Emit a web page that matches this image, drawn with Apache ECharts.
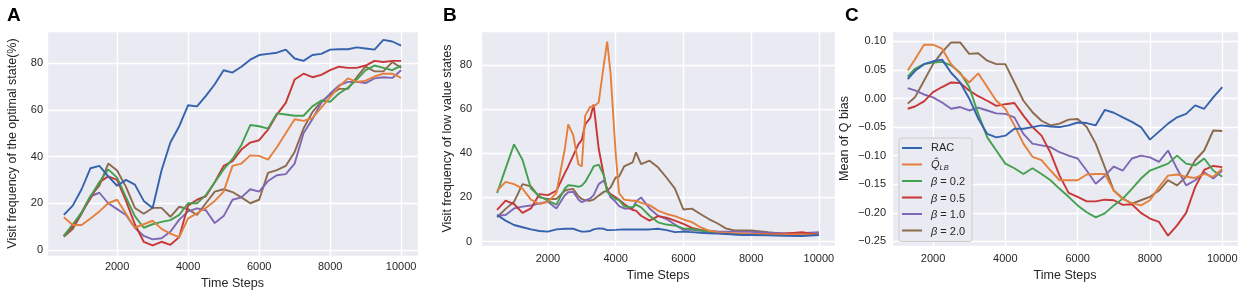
<!DOCTYPE html>
<html>
<head>
<meta charset="utf-8">
<script src="https://cdn.jsdelivr.net/npm/echarts@6/dist/echarts.min.js"></script>
<style>
html,body{margin:0;padding:0;background:#fff;}
#main{width:1248px;height:304px;}
</style>
</head>
<body>
<div id="main"></div>
<script>
// 图例名称（与C图一致）
var names = ['RAC', 'Q_LB', 'b0.2', 'b0.5', 'b1.0', 'b2.0'];
var colors = ['#3562ad', '#e5803c', '#44a04f', '#c83635', '#7e67b4', '#8c6a4d'];

// A: Visit frequency of the optimal state(%)
var stepsA = [500,750,1000,1250,1500,1750,2000,2250,2500,2750,3000,3250,3500,3750,4000,4250,4500,4750,5000,5250,5500,5750,6000,6250,6500,6750,7000,7250,7500,7750,8000,8250,8500,8750,9000,9250,9500,9750,10000];
var A_rac  = [15,19,26,35,36,31.5,27.5,30,28,21,18,34,46,53,62,61.5,66,71,77,76,78.5,81.5,83.5,84,84.5,85.8,82,81,83.5,84,85.8,86,86,86.8,86.3,85.8,90,89.3,87.5];
var A_qlb  = [14,10.7,10.7,13.5,16.5,20,21.5,15.5,9.5,11,12.5,9,7,5.5,13.5,15.7,18,21,25,36,37,40.5,40.3,38.7,44,50,56,55.3,56.5,61,65.5,70,73.5,72,72.5,74.3,75.5,75.5,73.7];
var A_b02  = [6,11,16,23,29,34.5,31,22.5,14.5,9.5,11,12,12.8,15,20,20,23.5,29,34.5,39,45,53.5,53,52,58.5,58,57.5,57.5,61.5,64,63.5,67,69.5,73,77,79,78,77,79];
var A_b05  = [6,10,16,22,29,31.5,30,21,11,3.5,2,3.5,2.2,5.5,19,21.5,23,29,36,38,43,46,47,51.5,58,63,73,75.5,74,75,77,78.5,78,78,79,81,80.5,81,81];
var A_b10  = [6,10,16,23,24.5,20,17.5,15,9.5,6,4.5,5,7.8,13,16.5,17.8,17,11.5,14.5,21.5,22.5,26,25,29.5,32,32.5,37,50,56,63,67,70.5,72,72,71.5,73.5,74,73.7,77];
var A_b20  = [5.6,9,15.5,23,27.5,37,34,27,18,15.5,18,18,14.2,18.5,17.5,15,20,25,26,24.8,22.5,20,21.5,33,34.2,36,42,52,59,63.5,66.5,69,69,74,78.6,76.5,76.5,80.5,78];

// B: Visit frequency of low value states
var stepsB = [500,750,1000,1250,1500,1750,2000,2250,2500,2600,2750,2900,3000,3100,3250,3350,3500,3650,3750,3850,4000,4100,4250,4500,4600,4750,5000,5250,5500,5750,6000,6250,6500,6750,7000,7250,7500,7750,8000,8500,9000,9500,10000];
var B_rac  = [12,9.5,7.5,6.5,5.5,4.8,4.5,5.5,5.8,5.8,5.8,5,4.5,4.5,4.8,5.5,6,5.8,5.2,5.2,5.3,5.4,5.5,5.5,5.5,5.5,5.5,5.8,5.2,4.3,4.5,4.3,4,3.8,3.6,3.4,3.2,3,3,2.8,2.6,2.5,3];
var B_qlb  = [23,27,26,24,19,17,18,22,42,53,48,35,34,57,61,61,63,80,90.5,76,40,22,19,18.5,18.5,17.5,16.5,14,12.5,11.5,10,8.8,6.5,5,4.2,4,3.8,3.7,3.5,3.3,3.2,3.2,3.2];
var B_b02  = [22,33,44,37,24,20.5,18.5,16.7,24,25.5,25.3,24.8,25.3,27,31,34,34.8,30,22.5,21,19.3,18.8,16,15.5,16.7,15.5,11.7,8.7,7.7,7.2,6,5.7,5,4.5,4,3.6,3.3,3.2,3.1,3,3,3,3];
var B_b05  = [14.3,18.5,17,13,15,21.5,21,23,31,34,39,44,46,53,56,62,42,30,23,21.5,20,19,17,14.3,14,11.7,9.5,11.5,10.8,9.5,8,6.2,5.3,4.7,4,3.6,3.5,3.4,3.3,3.5,3.6,4.2,3];
var B_b10  = [11.7,12,15,15.8,16.3,17.3,18,15,21,22.3,22.5,19,17.8,18.5,19.5,21,26,27.6,24,20,18,16,15,15,18,20,15,11.7,10.2,7.7,5.3,5.3,5,4.8,4.6,4.5,4.5,4.4,4.4,4,3.8,3.8,4.2];
var B_b20  = [11,14.8,18,26,25,20,19.3,19.3,23,23.5,23.8,20.5,19.3,18.7,18.5,19,20.8,22.5,23,24.5,29,29.4,34,35.8,40.4,35,36.6,33.6,29,24,14.5,14.9,12.5,10.2,8.3,6,5,5,5,4.2,3.5,3.2,3.5];

// C: Mean of Q bias
var stepsC = [1300,1500,1750,2000,2250,2500,2750,3000,3250,3500,3750,4000,4250,4500,4750,5000,5250,5500,5750,6000,6250,6500,6750,7000,7250,7500,7750,8000,8250,8500,8750,9000,9250,9500,9750,10000];
var C_rac  = [0.034,0.048,0.06,0.065,0.068,0.045,0.028,0.0,-0.035,-0.062,-0.068,-0.065,-0.053,-0.053,-0.05,-0.047,-0.049,-0.05,-0.047,-0.042,-0.043,-0.047,-0.02,-0.025,-0.033,-0.041,-0.05,-0.072,-0.058,-0.044,-0.033,-0.027,-0.012,-0.018,0.002,0.02];
var C_qlb  = [0.049,0.068,0.094,0.094,0.087,0.06,0.043,0.028,0.044,0.02,-0.004,-0.018,-0.047,-0.079,-0.102,-0.108,-0.126,-0.143,-0.143,-0.143,-0.133,-0.132,-0.132,-0.161,-0.176,-0.183,-0.187,-0.178,-0.155,-0.135,-0.133,-0.137,-0.139,-0.132,-0.137,-0.123];
var C_b02  = [0.038,0.052,0.06,0.063,0.064,0.058,0.045,0.02,-0.027,-0.068,-0.091,-0.114,-0.122,-0.132,-0.122,-0.132,-0.143,-0.158,-0.172,-0.187,-0.199,-0.208,-0.201,-0.187,-0.175,-0.158,-0.14,-0.126,-0.12,-0.114,-0.1,-0.114,-0.117,-0.105,-0.126,-0.137];
var C_b05  = [-0.018,-0.014,-0.005,0.011,0.02,0.028,0.027,0.014,0.004,-0.004,-0.013,-0.01,-0.008,-0.03,-0.05,-0.065,-0.095,-0.135,-0.165,-0.172,-0.18,-0.18,-0.177,-0.178,-0.186,-0.185,-0.2,-0.21,-0.216,-0.24,-0.222,-0.2,-0.155,-0.125,-0.118,-0.12];
var C_b10  = [0.018,0.014,0.007,0.002,-0.007,-0.018,-0.015,-0.021,-0.016,-0.021,-0.026,-0.027,-0.033,-0.062,-0.079,-0.082,-0.085,-0.094,-0.1,-0.105,-0.126,-0.149,-0.135,-0.119,-0.126,-0.105,-0.1,-0.103,-0.111,-0.091,-0.123,-0.152,-0.143,-0.129,-0.14,-0.126];
var C_b20  = [-0.009,0.002,0.031,0.06,0.081,0.098,0.098,0.078,0.079,0.066,0.06,0.06,0.028,-0.004,-0.024,-0.039,-0.047,-0.044,-0.037,-0.036,-0.05,-0.079,-0.12,-0.161,-0.175,-0.184,-0.178,-0.172,-0.161,-0.143,-0.152,-0.137,-0.108,-0.091,-0.056,-0.057];

var panelA = [A_rac, A_qlb, A_b02, A_b05, A_b10, A_b20];
var panelB = [B_rac, B_qlb, B_b02, B_b05, B_b10, B_b20];
var panelC = [C_rac, C_qlb, C_b02, C_b05, C_b10, C_b20];

var FONT = '"Liberation Sans", Arial, sans-serif';
var TXT = '#262626';

// 图例框位置
var LEG_LEFT = 899, LEG_TOP = 138, LEG_PAD_TOP = 4, LEG_ROW = 12, LEG_GAP = 4.5;

function pairs(xs, ys){
	var out = [];
	for (var i = 0; i < xs.length; i++){
		out.push([xs[i], ys[i]]);
	}
	return out;
}

function mkGrid(left, top, width, height){
	return {left:left, top:top, width:width, height:height, containLabel:false,
		show:true, backgroundColor:'#EAEAF2', borderWidth:0};
}

function mkX(idx, min, max, labelMargin, nameGap){
	return {
		type:'value', gridIndex:idx, min:min, max:max, splitNumber:5,
		name:'Time Steps', nameLocation:'middle', nameGap:nameGap,
		nameTextStyle:{fontFamily:FONT, fontSize:12.5, color:TXT},
		axisLine:{show:false}, axisTick:{show:false},
		axisLabel:{fontFamily:FONT, fontSize:11, color:TXT, margin:labelMargin, showMinLabel:false, showMaxLabel:false,
			formatter:function(v){ return String(Math.round(v)); }},
		splitLine:{show:true, lineStyle:{color:'#ffffff', width:1.3}}
	};
}

function mkY(idx, min, max, name, nameGap, labelMargin, split, fmt){
	return {
		type:'value', gridIndex:idx, min:min, max:max, splitNumber:split,
		name:name, nameLocation:'middle', nameGap:nameGap,
		nameTextStyle:{fontFamily:FONT, fontSize:12.5, color:TXT},
		axisLine:{show:false}, axisTick:{show:false},
		axisLabel:{fontFamily:FONT, fontSize:11, color:TXT, margin:labelMargin, showMinLabel:false, showMaxLabel:false,
			formatter:fmt || function(v){ return String(Math.round(v)); }},
		splitLine:{show:true, lineStyle:{color:'#ffffff', width:1.3}}
	};
}

var series = [];
function addPanel(idx, xs, arrs){
	for (var k = 0; k < arrs.length; k++){
		series.push({
			name:names[k], type:'line', xAxisIndex:idx, yAxisIndex:idx,
			data:pairs(xs, arrs[k]), showSymbol:false, symbol:'none',
			lineStyle:{width:1.9, color:colors[k]}, itemStyle:{color:colors[k]},
			z: 10 - k
		});
	}
}
addPanel(0, stepsA, panelA);
addPanel(1, stepsB, panelB);
addPanel(2, stepsC, panelC);

// 图例里的短线（图例本身的图标不显示）
var legendLines = [];
for (var j = 0; j < names.length; j++){
	var cy = LEG_TOP + LEG_PAD_TOP + j * (LEG_ROW + LEG_GAP) + LEG_ROW / 2;
	legendLines.push({
		type:'line', z:100, silent:true,
		shape:{x1:LEG_LEFT + 3, y1:cy, x2:LEG_LEFT + 23, y2:cy},
		style:{stroke:colors[j], lineWidth:2}
	});
}

var myChart = echarts.init(document.getElementById('main'), null, {renderer:'canvas'});
var option = {
	animation:false,
	backgroundColor:'#ffffff',
	color:colors,
	title:[
		{text:'A', left:2, top:1, textStyle:{fontFamily:FONT, fontSize:19, fontWeight:'bold', color:'#000'}},
		{text:'B', left:438, top:1, textStyle:{fontFamily:FONT, fontSize:19, fontWeight:'bold', color:'#000'}},
		{text:'C', left:840, top:1, textStyle:{fontFamily:FONT, fontSize:19, fontWeight:'bold', color:'#000'}}
	],
	grid:[
		mkGrid(47, 31, 371, 225),
		mkGrid(481, 31, 354, 215),
		mkGrid(892, 31, 346, 215)
	],
	xAxis:[
		mkX(0, 25, 10475, 5, 17),
		mkX(1, 25, 10475, 7, 22),
		mkX(2, 865, 10435, 7, 22)
	],
	yAxis:[
		mkY(0, -2.6, 93.8, 'Visit frequency of the optimal state(%)', 28, 4, 5),
		mkY(1, -2, 95.3, 'Visit frequency of low value states', 27, 9, 5),
		mkY(2, -0.258, 0.118, 'Mean of Q bias', 41, 6, 8, function(v){
			var s = Math.abs(v).toFixed(2);
			return (v < -1e-9 ? '\u2212' : '') + s;
		})
	],
	legend:{
		data:names, orient:'vertical', left:LEG_LEFT, top:LEG_TOP,
		icon:'rect', itemWidth:0, itemHeight:0, itemGap:LEG_GAP,
		selectedMode:false,
		backgroundColor:'#EAEAF2', borderColor:'#cccccc', borderWidth:1, borderRadius:3,
		padding:[LEG_PAD_TOP, 7, 4, 3],
		textStyle:{fontFamily:FONT, fontSize:11, color:TXT, lineHeight:LEG_ROW, padding:[0,0,0,24],
			rich:{
				q:{fontFamily:FONT, fontSize:11, fontStyle:'italic', color:TXT, lineHeight:LEG_ROW},
				s:{fontFamily:FONT, fontSize:7.5, fontStyle:'italic', color:TXT, lineHeight:LEG_ROW, padding:[5,0,0,0]},
				b:{fontFamily:FONT, fontSize:11, fontStyle:'italic', color:TXT, lineHeight:LEG_ROW},
				t:{fontFamily:FONT, fontSize:11, color:TXT, lineHeight:LEG_ROW}
			}
		},
		formatter:function(name){
			if (name === 'RAC') return '{t|RAC}';
			if (name === 'Q_LB') return '{q|Q\u0302}{s|LB}';
			return '{b|\u03b2}{t| = ' + name.substr(1) + '}';
		}
	},
	graphic:legendLines,
	series:series
};
myChart.setOption(option);
</script>
</body>
</html>
